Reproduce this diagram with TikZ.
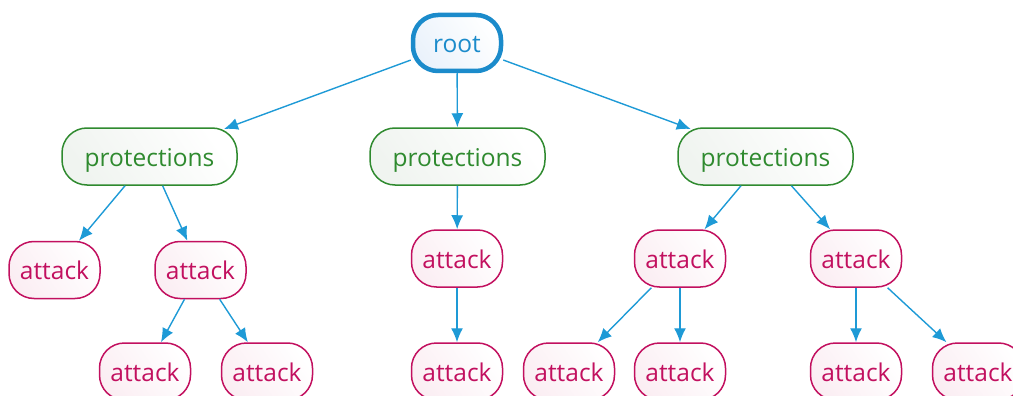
\documentclass[tikz,border=0pt]{standalone}
\usepackage{fontspec}
\setmainfont{Open Sans}
\usetikzlibrary{arrows.meta}
\definecolor{linkblue}{HTML}{1E9AD6}
\definecolor{rootblue}{HTML}{1B8BCB}
\definecolor{rootfill}{HTML}{EAF2FB}
\definecolor{protgreen}{HTML}{2F8A2F}
\definecolor{protfill}{HTML}{F0F4F0}
\definecolor{attred}{HTML}{C2105F}
\definecolor{attfill}{HTML}{FBEEF3}
\tikzset{
  x=1pt, y=-1pt,
  box/.style={rectangle, rounded corners=25pt, minimum height=57pt,
    inner sep=0pt, text height=19pt, text depth=0pt,
    font=\fontsize{24.5}{28}\selectfont},
  rootbox/.style={box, draw=rootblue, line width=4.5pt, text=rootblue,
    minimum width=88pt, minimum height=56pt, left color=rootfill,
    right color=white, shading angle=125},
  protbox/.style={box, draw=protgreen, line width=1.5pt, text=protgreen,
    minimum width=175pt, left color=protfill, right color=white,
    shading angle=125},
  attbox/.style={box, draw=attred, line width=1.5pt, text=attred,
    minimum width=91pt, left color=attfill, right color=white,
    shading angle=125},
  link/.style={draw=linkblue, line width=1.4pt,
    -{Latex[length=14pt,width=12pt]}},
  % reach past the square corner onto the rounded outline
  intocorner/.style={shorten >=-5pt}
}
\begin{document}
\begin{tikzpicture}
\useasboundingbox (0,0) rectangle (1013,396);
% tree nodes
\node[rootbox] (root) at (457,43) {root};
\node[protbox] (p1) at (149.5,156.5) {protections};
\node[protbox] (p2) at (457.5,156.5) {protections};
\node[protbox] (p3) at (765.5,156.5) {protections};
\node[attbox] (a1) at (54.5,270) {attack};
\node[attbox] (a2) at (200.5,270) {attack};
\node[attbox] (a3) at (457,258.5) {attack};
\node[attbox] (a4) at (680,258.5) {attack};
\node[attbox] (a5) at (856,258.5) {attack};
\node[attbox] (b1) at (145,371.5) {attack};
\node[attbox] (b2) at (267,371.5) {attack};
\node[attbox] (b3) at (457,371.5) {attack};
\node[attbox] (b4) at (569,371.5) {attack};
\node[attbox] (b5) at (680,371.5) {attack};
\node[attbox] (b6) at (856,371.5) {attack};
\node[attbox] (b7) at (978,371.5) {attack};
% connectors
\draw[link,intocorner] (root) -- (p1);
\draw[link] (root) -- (p2);
\draw[link,intocorner] (root) -- (p3);
\draw[link] (p1) -- (a1);
\draw[link] (p1) -- (a2);
\draw[link] (a2) -- (b1);
\draw[link] (a2) -- (b2);
\draw[link] (p2) -- (a3);
\draw[link] (a3) -- (b3);
\draw[link] (p3) -- (a4);
\draw[link] (p3) -- (a5);
\draw[link] (a4) -- (b4);
\draw[link] (a4) -- (b5);
\draw[link] (a5) -- (b6);
\draw[link] (a5) -- (b7);
\end{tikzpicture}
\end{document}
